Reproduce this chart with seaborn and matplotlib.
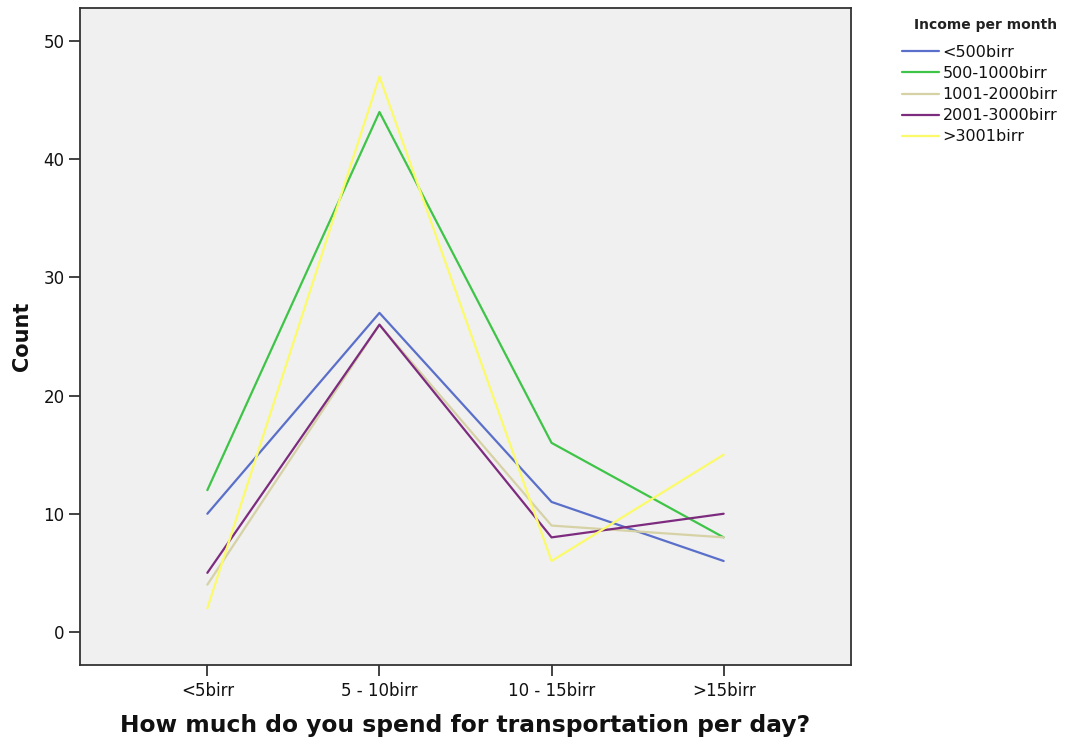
import matplotlib
matplotlib.use("Agg")
import matplotlib.pyplot as plt
import seaborn as sns
import pandas as pd
from matplotlib.lines import Line2D

categories = ["<5birr", "5 - 10birr", "10 - 15birr", ">15birr"]
income_groups = ["<500birr", "500-1000birr", "1001-2000birr", "2001-3000birr", ">3001birr"]
v_lt500 = [10, 27, 11, 6]
v_500_1000 = [12, 44, 16, 8]
v_1001_2000 = [4, 26, 9, 8]
v_2001_3000 = [5, 26, 8, 10]
v_gt3001 = [2, 47, 6, 15]
colors = ["#5a6fc9", "#3ec447", "#d6d2a6", "#7d2b7f", "#fbfb6a"]

series = [v_lt500, v_500_1000, v_1001_2000, v_2001_3000, v_gt3001]
rows = []
for g, vals in zip(income_groups, series):
    for i, (c, v) in enumerate(zip(categories, vals)):
        rows.append({"pos": i, "cat": c, "Income per month": g, "Count": v})
df = pd.DataFrame(rows)

sns.set_style("white")
plt.rcParams["font.family"] = ["DejaVu Sans"]

fig = plt.figure(figsize=(10.74, 7.38), dpi=100)
ax = fig.add_axes([80/1074, 1-665/738, (851-80)/1074, (665-8)/738])
ax.set_facecolor("#f0f0f0")

sns.lineplot(data=df, x="pos", y="Count", hue="Income per month",
             palette=dict(zip(income_groups, colors)), hue_order=income_groups,
             linewidth=1.6, ax=ax, legend=False)

ax.set_xlim(-0.74, 3.74)
ax.set_ylim(-2.8, 52.8)
ax.set_xticks(range(len(categories)))
ax.set_xticklabels(categories, fontsize=12)
ax.set_yticks([0, 10, 20, 30, 40, 50])
ax.tick_params(axis="y", labelsize=12, length=8, width=1.2, direction="out", left=True,
               color="#222222", labelcolor="#111111", pad=3)
ax.tick_params(axis="x", length=8, width=1.2, direction="out", bottom=True,
               color="#222222", labelcolor="#111111", pad=4)
for s in ax.spines.values():
    s.set_visible(True)
    s.set_color("#333333")
    s.set_linewidth(1.3)

ax.set_xlabel("How much do you spend for transportation per day?", fontsize=16.8,
              fontweight="bold", labelpad=10, color="#111111")
ax.set_ylabel("Count", fontsize=15, fontweight="bold", labelpad=8, color="#111111")

fig.text(986/1074, 1-25/738, "Income per month", ha="center", va="center",
         fontsize=10, fontweight="bold", color="#222222")
handles = [Line2D([0], [0], color=c, lw=1.6) for c in colors]
leg = fig.legend(handles, income_groups,
                 loc="upper left", bbox_to_anchor=(902/1074, 1-45/738),
                 frameon=False, fontsize=11.5, borderpad=0, borderaxespad=0,
                 handlelength=2.3, handletextpad=0.25, labelspacing=0.38)
for t in leg.get_texts():
    t.set_color("#111111")

fig.savefig("out.png", dpi=100, facecolor="white")
